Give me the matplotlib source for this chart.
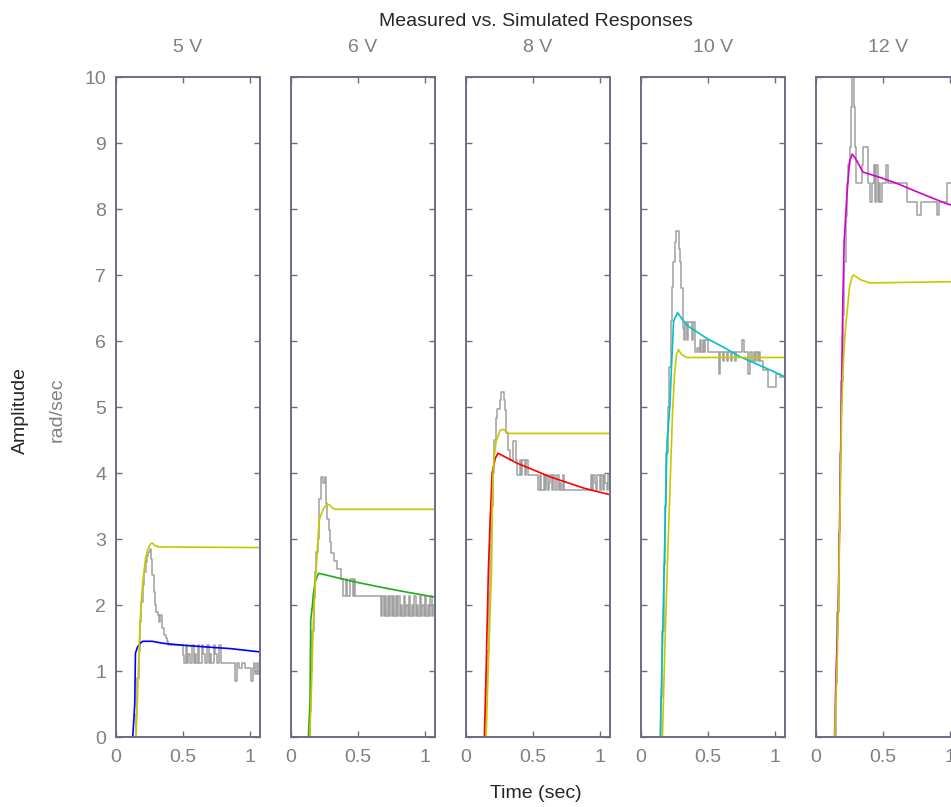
import numpy as np
import matplotlib
matplotlib.use("Agg")
import matplotlib.pyplot as plt

plt.rcParams['font.family'] = ['Liberation Sans', 'DejaVu Sans']

# panel titles
volts = ["5 V", "6 V", "8 V", "10 V", "12 V"]

# measured responses, sampled every 0.01 s (zero order hold)
meas_5 = [0.0]*15 + [0.35, 0.9, 1.3, 1.75, 2.05, 2.3, 2.5, 2.65, 2.75, 2.8,
          2.85, 2.7, 2.45, 2.2, 2.0, 1.9, 1.85, 1.75, 1.85, 1.65,
          1.65, 1.55, 1.5, 1.45, 1.4, 1.4, 1.4, 1.4, 1.4, 1.4,
          1.4, 1.4, 1.4, 1.4, 1.4, 1.25, 1.12, 1.4, 1.12, 1.26,
          1.12, 1.12, 1.4, 1.12, 1.26, 1.12, 1.4, 1.12, 1.12, 1.4,
          1.26, 1.12, 1.12, 1.4, 1.12, 1.26, 1.12, 1.12, 1.4, 1.26,
          1.12, 1.12, 1.4, 1.12, 1.12, 1.12, 1.12, 1.12, 1.12, 1.12,
          1.12, 1.12, 1.12, 1.12, 0.85, 1.12, 1.12, 1.05, 1.05, 1.12,
          1.12, 1.05, 1.05, 1.05, 1.05, 1.05, 0.85, 1.05, 1.12, 0.95,
          1.12, 0.95, 1.05]
meas_6 = [0.0]*14 + [0.4, 1.0, 1.6, 2.1, 2.5, 2.8, 3.0, 3.6, 3.94, 3.94,
          3.85, 3.94, 3.55, 3.3, 3.14, 2.95, 2.79, 2.79, 2.67, 2.67,
          2.55, 2.55, 2.55, 2.4, 2.4, 2.14, 2.14, 2.4, 2.14, 2.14,
          2.4, 2.4, 2.14, 2.4, 2.14, 2.14, 2.14, 2.14, 2.14, 2.14,
          2.14, 2.14, 2.14, 2.14, 2.14, 2.14, 2.14, 2.14, 2.14, 2.14,
          2.14, 2.14, 2.14, 1.83, 2.14, 1.83, 2.14, 1.83, 2.14, 1.83,
          2.14, 1.83, 2.14, 1.83, 2.14, 1.83, 2.14, 1.83, 2.0, 1.83,
          2.14, 1.83, 2.0, 1.83, 2.14, 1.83, 2.0, 1.83, 2.14, 1.83,
          2.0, 1.83, 2.14, 1.83, 2.0, 1.83, 2.14, 1.83, 2.0, 1.83,
          2.14, 1.83, 2.0, 1.83]
meas_8 = [0.0]*15 + [0.5, 1.3, 2.2, 2.9, 3.5, 4.0, 4.5, 4.84, 4.97, 4.97,
          5.1, 5.23, 5.23, 5.1, 4.95, 4.6, 4.35, 4.35, 4.2, 4.2,
          4.48, 4.48, 4.2, 3.97, 3.97, 4.2, 3.97, 4.2, 4.2, 3.97,
          4.2, 3.97, 3.97, 3.97, 3.97, 3.97, 3.97, 3.97, 3.97, 3.74,
          3.97, 3.74, 3.74, 3.97, 3.74, 3.97, 3.74, 3.85, 3.97, 3.74,
          3.97, 3.74, 3.74, 3.97, 3.74, 3.85, 3.74, 3.97, 3.74, 3.74,
          3.74, 3.74, 3.74, 3.74, 3.74, 3.74, 3.74, 3.74, 3.74, 3.74,
          3.74, 3.74, 3.74, 3.74, 3.74, 3.74, 3.74, 3.74, 3.97, 3.74,
          3.97, 3.85, 3.74, 3.97, 3.97, 3.74, 3.97, 3.74, 3.97, 3.85,
          3.74, 3.97, 3.74]
meas_10 = [0.0]*15 + [0.6, 1.6, 2.6, 3.5, 4.3, 5.0, 5.6, 6.3, 6.82, 7.2,
           7.5, 7.66, 7.66, 7.4, 7.2, 6.8, 6.2, 6.02, 6.29, 6.02,
           6.29, 6.29, 6.29, 6.02, 6.29, 5.84, 5.84, 5.9, 5.84, 6.02,
           5.84, 6.02, 5.84, 6.02, 6.02, 5.84, 5.84, 5.84, 5.84, 5.84,
           5.84, 5.84, 5.84, 5.5, 5.84, 5.84, 5.7, 5.84, 5.84, 5.7,
           5.84, 5.84, 5.7, 5.84, 5.84, 5.7, 5.84, 5.84, 5.84, 5.84,
           6.02, 6.02, 5.84, 5.84, 5.84, 5.5, 5.84, 5.84, 5.7, 5.84,
           5.7, 5.84, 5.7, 5.84, 5.7, 5.7, 5.56, 5.56, 5.56, 5.56,
           5.3, 5.3, 5.3, 5.3, 5.3, 5.3, 5.5, 5.5, 5.5, 5.45,
           5.45, 5.45, 5.45]
meas_12 = [0.0]*15 + [0.8, 1.9, 3.1, 4.3, 5.4, 6.4, 7.2, 7.9, 8.39, 8.67,
           8.94, 9.55, 10.1, 9.55, 8.94, 8.39, 8.39, 8.39, 8.39, 8.67,
           8.94, 8.94, 8.94, 8.94, 8.39, 8.11, 8.11, 8.39, 8.67, 8.11,
           8.67, 8.11, 8.39, 8.11, 8.39, 8.39, 8.39, 8.67, 8.67, 8.39,
           8.39, 8.39, 8.39, 8.39, 8.39, 8.39, 8.39, 8.39, 8.39, 8.39,
           8.39, 8.39, 8.39, 8.11, 8.11, 8.11, 8.11, 8.11, 8.11, 8.11,
           7.91, 7.91, 7.91, 8.11, 8.11, 8.11, 8.11, 8.11, 8.11, 8.11,
           8.11, 8.11, 8.11, 8.11, 8.11, 7.91, 7.91, 8.11, 8.11, 8.11,
           8.11, 8.11, 8.11, 8.39, 8.39, 8.39, 8.39, 8.39, 8.39, 8.39,
           8.39, 8.39, 8.39]
measured = [meas_5, meas_6, meas_8, meas_10, meas_12]

# simulated response of the single (yellow) model
sim_t = [
    [0, 0.15, 0.16, 0.17, 0.18, 0.19, 0.2, 0.22, 0.24, 0.26, 0.27, 0.29, 0.32, 1.07],
    [0, 0.14, 0.155, 0.167, 0.18, 0.192, 0.21, 0.24, 0.265, 0.285, 0.31, 0.33, 1.07],
    [0, 0.15, 0.17, 0.19, 0.2, 0.21, 0.225, 0.255, 0.28, 0.32, 1.07],
    [0, 0.16, 0.18, 0.2, 0.22, 0.235, 0.25, 0.265, 0.28, 0.3, 0.34, 1.07],
    [0, 0.14, 0.16, 0.17, 0.18, 0.19, 0.2, 0.21, 0.22, 0.235, 0.25, 0.27, 0.28, 0.33, 0.4, 1.07],
]
sim_v = [
    [0, 0, 0.6, 1.2, 1.75, 2.1, 2.35, 2.7, 2.86, 2.93, 2.94, 2.9, 2.88, 2.87],
    [0, 0, 0.9, 1.77, 2.3, 2.68, 3.29, 3.45, 3.52, 3.52, 3.47, 3.45, 3.45],
    [0, 0, 1.3, 2.5, 3.9, 4.25, 4.48, 4.65, 4.66, 4.6, 4.6],
    [0, 0, 1.5, 2.8, 4.0, 4.9, 5.5, 5.8, 5.87, 5.8, 5.75, 5.75],
    [0, 0, 1.3, 2.3, 3.5, 4.8, 5.5, 5.9, 6.2, 6.5, 6.82, 6.98, 7.0, 6.93, 6.88, 6.9],
]

# simulated response of the per-voltage models
fit_t = [
    [0, 0.125, 0.13, 0.14, 0.145, 0.16, 0.18, 0.2, 0.27, 0.35, 0.5, 0.7, 0.85, 1.07],
    [0, 0.13, 0.142, 0.147, 0.16, 0.167, 0.18, 0.205, 0.25, 0.37, 0.5, 0.67, 0.85, 1.07],
    [0, 0.137, 0.15, 0.167, 0.18, 0.195, 0.218, 0.238, 0.38, 0.63, 0.88, 1.075],
    [0, 0.143, 0.16, 0.175, 0.188, 0.195, 0.215, 0.225, 0.243, 0.272, 0.34, 0.49, 0.62, 0.74, 0.92, 1.07],
    [0, 0.138, 0.15, 0.16, 0.17, 0.18, 0.19, 0.2, 0.21, 0.23, 0.25, 0.27, 0.29, 0.35, 0.475, 0.6, 0.73, 0.85, 0.975, 1.07],
]
fit_v = [
    [0, 0, 0.16, 0.5, 1.27, 1.36, 1.42, 1.45, 1.45, 1.42, 1.39, 1.36, 1.34, 1.29],
    [0, 0, 0.55, 1.77, 2.0, 2.17, 2.35, 2.48, 2.46, 2.40, 2.34, 2.27, 2.2, 2.12],
    [0, 0, 1.0, 2.53, 3.29, 4.0, 4.22, 4.3, 4.15, 3.94, 3.77, 3.67],
    [0, 0, 1.4, 2.8, 3.95, 4.5, 5.0, 5.5, 6.3, 6.43, 6.24, 6.04, 5.9, 5.76, 5.6, 5.46],
    [0, 0, 1.0, 1.6, 2.5, 3.8, 5.2, 6.6, 7.5, 8.2, 8.72, 8.83, 8.78, 8.56, 8.48, 8.39, 8.28, 8.18, 8.08, 8.02],
]
fit_colors = ['#0000ff', '#1faa1f', '#ff0000', '#00c0c8', '#d200d2']
sim_color = '#c8c800'
meas_color = '#a0a0a0'
axis_color = '#6c6c8a'
tick_color = '#808080'

W, H = 951, 807
fig = plt.figure(figsize=(W / 100, H / 100), dpi=100)

for i in range(5):
    left = 116 + 175 * i
    ax = fig.add_axes([left / W, 70 / H, 143.5 / W, 660 / H])
    vals = measured[i]
    tt = np.arange(len(vals)) * 0.01
    ax.step(tt, vals, where='post', color=meas_color, lw=1.1)
    ax.plot(fit_t[i], fit_v[i], color=fit_colors[i], lw=1.2)
    ax.plot(sim_t[i], sim_v[i], color=sim_color, lw=1.2)

    ax.set_xlim(0, 1.07)
    ax.set_ylim(0, 10)
    ax.set_xticks([0, 0.5, 1])
    ax.set_xticklabels(['0', '0.5', '1'])
    ax.set_yticks(range(11))
    if i > 0:
        ax.set_yticklabels([])
    ax.tick_params(direction='in', length=4, width=1.0, color=axis_color,
                   top=True, right=True, labelsize=14, labelcolor=tick_color)
    ax.tick_params(axis='x', pad=9)
    ax.tick_params(axis='y', pad=7)
    for s in ax.spines.values():
        s.set_color(axis_color)
        s.set_linewidth(1.4)
    fig.text((left + 71.75) / W, 1 - 47 / H, volts[i], ha='center', va='center',
             fontsize=14, color=tick_color)

fig.text(536 / W, 1 - 21 / H, 'Measured vs. Simulated Responses', ha='center',
         va='center', fontsize=14, color='#262626')
fig.text(536 / W, 1 - 793 / H, 'Time (sec)', ha='center', va='center',
         fontsize=14, color='#262626')
fig.text(20 / W, 1 - 410 / H, 'Amplitude', rotation=90, ha='center', va='center',
         fontsize=14, color='#262626')
fig.text(57 / W, 1 - 410 / H, 'rad/sec', rotation=90, ha='center', va='center',
         fontsize=14, color=tick_color)

fig.savefig('out.png', dpi=100)
